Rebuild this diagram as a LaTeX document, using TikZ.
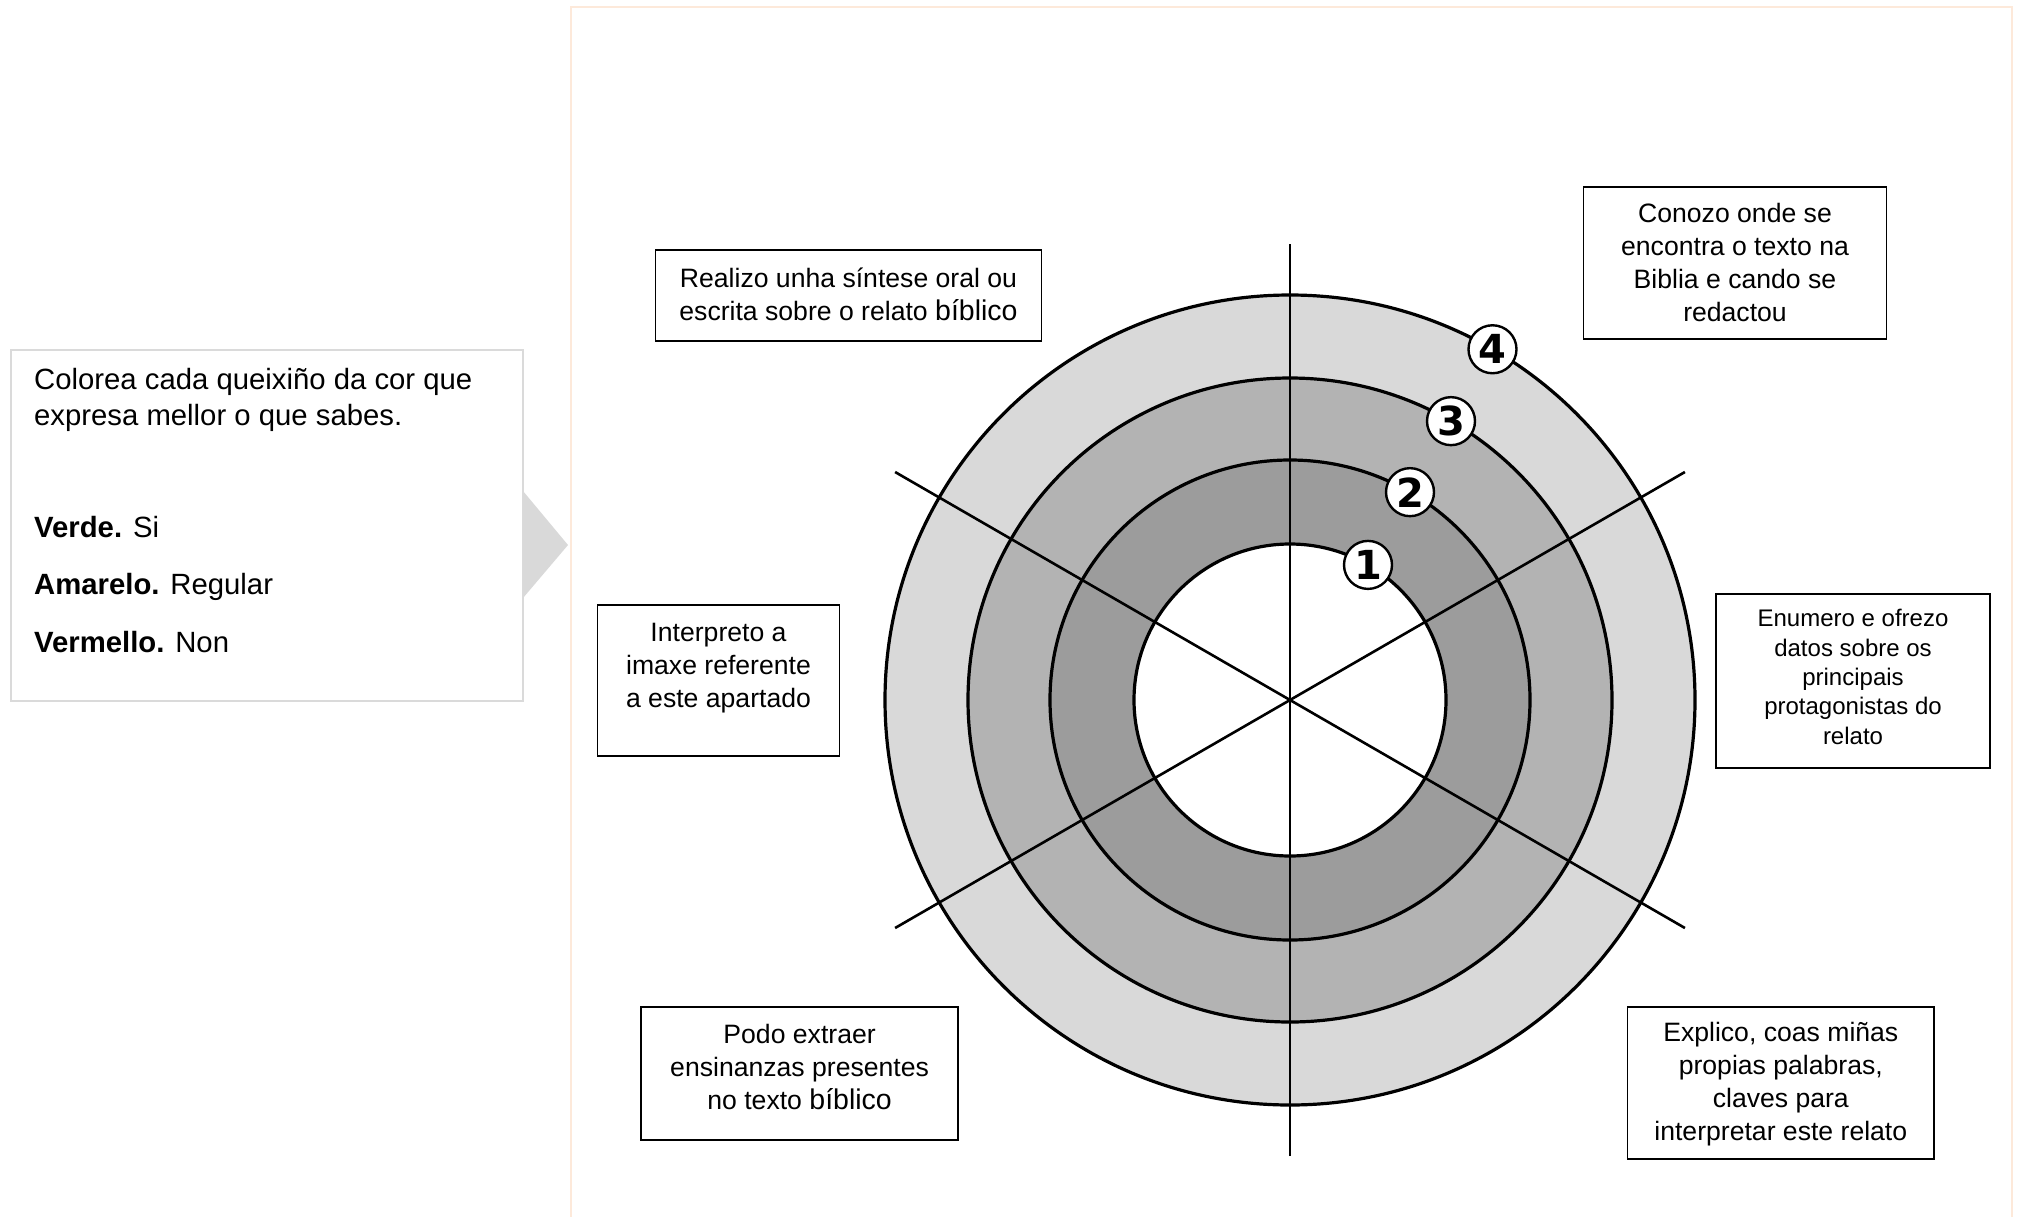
\documentclass[tikz,border=0pt]{standalone}
\usepackage{fontspec}
\setmainfont{Liberation Sans}
\newfontfamily\badgefont{DejaVu Sans}
\usetikzlibrary{calc}
\definecolor{ringOuter}{HTML}{D9D9D9}
\definecolor{ringMid}{HTML}{B3B3B3}
\definecolor{ringInner}{HTML}{9C9C9C}
\definecolor{legendGrey}{HTML}{DADADA}
\definecolor{arrowGrey}{HTML}{D9D9D9}
\definecolor{framePeach}{HTML}{FDE9DA}
\begin{document}
\begin{tikzpicture}[x=1pt,y=-1pt,
  box/.style={draw=black, line width=1.6pt, fill=white, inner sep=0pt},
  txt/.style={align=center, inner sep=0pt, font=\fontsize{26.6}{33}\selectfont},
  smalltxt/.style={align=center, inner sep=0pt, font=\fontsize{24}{29.3}\selectfont},
  legendtxt/.style={anchor=base west, inner sep=0pt, font=\fontsize{29.3}{36}\selectfont},
  ringline/.style={draw=black, line width=3.2pt},
  spoke/.style={draw=black, line width=2.6pt},
  badge/.style={circle, draw=black, line width=2.4pt, fill=white, minimum size=48pt, inner sep=0pt, font=\badgefont\fontsize{40}{40}\bfseries}
]
\useasboundingbox (0,0) rectangle (2019,1216);
\fill[white] (0,0) rectangle (2019,1216);

% outer frame (open at the bottom)
\draw[framePeach, line width=2.2pt] (571,1230) -- (571,7) -- (2012,7) -- (2012,1230);

% legend box and pointer
\node[draw=legendGrey, line width=1.6pt, fill=white, minimum width=512pt, minimum height=351pt, inner sep=0pt] (legend) at (267,525.5) {};
\coordinate (ta) at (523,491);
\coordinate (tb) at (568,545);
\coordinate (tc) at (523,598);
\fill[arrowGrey] (ta) -- (tb) -- (tc) -- cycle;
\node[legendtxt] (intro1) at (34,389) {Colorea cada queixiño da cor que};
\node[legendtxt] (intro2) at (34,425) {expresa mellor o que sabes.};
\node[legendtxt] (verde) at (34,537) {\textbf{Verde.} Si};
\node[legendtxt] (amarelo) at (34,594) {\textbf{Amarelo.} Regular};
\node[legendtxt] (vermello) at (34,652) {\textbf{Vermello.} Non};

% target diagram
\coordinate (c) at (1290,700);
\fill[ringOuter] (c) circle[radius=405pt];
\fill[ringMid] (c) circle[radius=322pt];
\fill[ringInner] (c) circle[radius=240pt];
\fill[white] (c) circle[radius=156pt];
\draw[ringline] (c) circle[radius=405pt];
\draw[ringline] (c) circle[radius=322pt];
\draw[ringline] (c) circle[radius=240pt];
\draw[ringline] (c) circle[radius=156pt];

\coordinate (s90) at ($(c)+(90:456)$);
\coordinate (s270) at ($(c)+(270:456)$);
\coordinate (s30) at ($(c)+(30:456)$);
\coordinate (s210) at ($(c)+(210:456)$);
\coordinate (s150) at ($(c)+(150:456)$);
\coordinate (s330) at ($(c)+(330:456)$);
\draw[spoke] (s90) -- (s270);
\draw[spoke] (s30) -- (s210);
\draw[spoke] (s150) -- (s330);

\node[badge] (n1) at ($(c)+(-60:156)$) {1};
\node[badge] (n2) at ($(c)+(-60:240)$) {2};
\node[badge] (n3) at ($(c)+(-60:322)$) {3};
\node[badge] (n4) at ($(c)+(-60:405)$) {4};

% text boxes
\node[box, minimum width=386pt, minimum height=91pt] (b1) at (848.5,295.5) {};
\node[txt] (t1) at (848.5,294) {Realizo unha síntese oral ou\\escrita sobre o relato {\fontsize{28.5}{33}\selectfont bíblico}};

\node[box, minimum width=303pt, minimum height=152pt] (b2) at (1735,262.7) {};
\node[txt] (t2) at (1735,262) {Conozo onde se\\encontra o texto na\\Biblia e cando se\\redactou};

\node[box, minimum width=242pt, minimum height=151pt] (b3) at (718.5,680.5) {};
\node[txt] (t3) at (718.5,668.5) {Interpreto a\\imaxe referente\\a este apartado};

\node[box, minimum width=274pt, minimum height=174pt] (b4) at (1853,681) {};
\node[smalltxt] (t4) at (1853,677) {Enumero e ofrezo\\datos sobre os\\principais\\protagonistas do\\relato};

\node[box, minimum width=317pt, minimum height=133pt] (b5) at (799.6,1073.2) {};
\node[txt] (t5) at (799.6,1066.5) {Podo extraer\\ensinanzas presentes\\no texto {\fontsize{28.5}{33}\selectfont bíblico}};

\node[box, minimum width=306.5pt, minimum height=152pt] (b6) at (1780.8,1082.9) {};
\node[txt] (t6) at (1780.8,1084.5) {Explico, coas miñas\\propias palabras,\\claves para\\interpretar este relato};
\end{tikzpicture}
\end{document}
